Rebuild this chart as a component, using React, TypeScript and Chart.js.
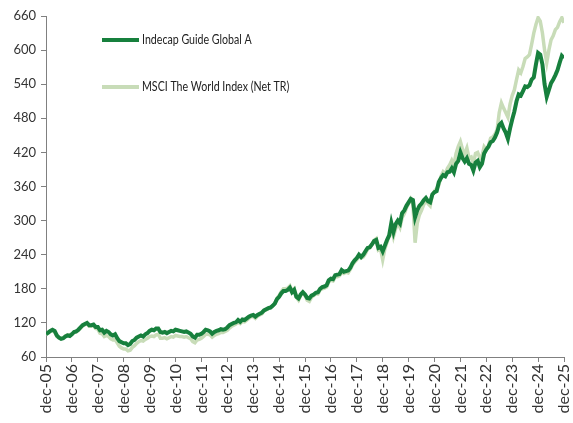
import React, { useEffect, useRef } from 'react';
import { Chart, registerables } from 'chart.js';

Chart.register(...registerables);

// Monthly index values, dec-05 .. dec-25 (241 months)
const indecap: number[] = [
  100,
  103, 106, 108, 106, 98, 94, 92, 93, 96, 98, 97, 100,
  104, 105, 108, 112, 116, 118, 120, 116, 116, 117, 113, 113,
  107, 108, 103, 106, 104, 100, 98, 100, 93, 88, 86, 84,
  84, 81, 83, 88, 90, 94, 96, 98, 96, 100, 102, 106,
  108, 107, 110, 110, 104, 103, 104, 102, 104, 106, 105, 108,
  107, 106, 105, 104, 105, 103, 101, 96, 94, 99, 99, 101,
  104, 108, 107, 105, 101, 104, 106, 107, 109, 108, 109, 112,
  116, 118, 120, 121, 125, 122, 126, 125, 128, 131, 133, 134,
  131, 134, 136, 138, 142, 144, 146, 147, 150, 154, 162, 166,
  172, 176, 176, 178, 182, 174, 178, 166, 163, 170, 174, 170,
  164, 163, 168, 170, 173, 174, 180, 183, 184, 186, 195, 198,
  197, 204, 205, 206, 213, 210, 211, 212, 217, 225, 230, 234,
  240, 236, 240, 246, 252, 253, 258, 264, 266, 252, 254, 246,
  256, 266, 274, 296, 280, 294, 300, 295, 313, 318, 326, 332,
  338, 336, 306, 318, 326, 330, 336, 340, 334, 332, 346, 350,
  352, 368, 375, 380, 378, 385, 386, 392, 385, 400, 405, 420,
  410, 404, 410, 400, 398, 388, 402, 405, 394, 400, 418, 425,
  430, 438, 440, 446, 455, 468, 472, 462, 455, 444, 462, 478,
  492, 510, 522, 520, 528, 536, 535, 538, 548, 552, 575, 595,
  592, 575, 540, 518, 530, 542, 548, 556, 565, 578, 590, 586,
];

const msci: number[] = [
  100,
  102, 105, 107, 104, 96, 94, 93, 94, 97, 99, 99, 101,
  103, 104, 107, 111, 115, 117, 119, 114, 114, 115, 110, 109,
  102, 101, 96, 98, 96, 92, 90, 91, 85, 79, 76, 74,
  74, 71, 72, 77, 80, 84, 87, 89, 88, 91, 93, 96,
  97, 96, 99, 100, 93, 93, 94, 92, 94, 96, 95, 98,
  97, 96, 96, 95, 96, 94, 92, 87, 85, 90, 91, 93,
  96, 100, 100, 99, 95, 98, 100, 101, 103, 103, 105, 107,
  111, 114, 116, 118, 121, 119, 123, 122, 125, 128, 131, 131,
  128, 132, 134, 136, 141, 143, 145, 147, 150, 154, 163, 168,
  175, 180, 180, 181, 185, 176, 180, 165, 160, 168, 173, 168,
  160, 158, 165, 168, 171, 171, 178, 180, 181, 183, 192, 195,
  194, 201, 201, 203, 209, 207, 209, 208, 214, 222, 227, 231,
  238, 234, 236, 242, 250, 252, 258, 265, 268, 248, 250, 231,
  250, 262, 272, 290, 272, 286, 296, 288, 305, 312, 322, 330,
  338, 330, 261, 295, 310, 318, 328, 336, 330, 326, 345, 352,
  356, 362, 378, 386, 382, 392, 398, 406, 398, 418, 430, 439,
  425, 418, 428, 410, 412, 400, 418, 420, 410, 414, 430, 425,
  432, 445, 447, 452, 460, 490, 507, 498, 490, 482, 505, 520,
  530, 548, 565, 560, 571, 585, 588, 592, 610, 630, 645, 657,
  651, 630, 600, 578, 600, 618, 625, 636, 640, 650, 657, 648,
];

const yearTicks: string[] = [
  'dec-05', 'dec-06', 'dec-07', 'dec-08', 'dec-09', 'dec-10', 'dec-11',
  'dec-12', 'dec-13', 'dec-14', 'dec-15', 'dec-16', 'dec-17', 'dec-18',
  'dec-19', 'dec-20', 'dec-21', 'dec-22', 'dec-23', 'dec-24', 'dec-25',
];

const seriesNames: string[] = ['Indecap Guide Global A', 'MSCI The World Index (Net TR)'];
const seriesColors: string[] = ['#17803d', '#c8dcb8'];

const FONT = 'Lato, "DejaVu Sans Condensed", sans-serif';

const inlineLegend = {
  id: 'inlineLegend',
  afterDatasetsDraw(chart: any) {
    const { ctx, chartArea } = chart;
    const x0 = chartArea.left + 56;
    const rows = [chartArea.top + 24, chartArea.top + 71];
    ctx.save();
    chart.data.datasets.forEach((ds: any, i: number) => {
      const y = rows[i];
      ctx.strokeStyle = ds.borderColor;
      ctx.lineWidth = 4;
      ctx.beginPath();
      ctx.moveTo(x0, y);
      ctx.lineTo(x0 + 37, y);
      ctx.stroke();
      ctx.fillStyle = '#222';
      ctx.font = '12.5px ' + FONT;
      ctx.textBaseline = 'middle';
      ctx.textAlign = 'left';
      const w = ctx.measureText(ds.label).width;
      ctx.fillText(ds.label, x0 + 40, y, w * 0.85);
    });
    ctx.restore();
  },
};

export default function App() {
  const ref = useRef<HTMLCanvasElement>(null);

  useEffect(() => {
    if (!ref.current) return;
    const chart = new Chart(ref.current, {
      type: 'line',
      data: {
        datasets: [
          {
            label: seriesNames[0],
            data: indecap.map((v, i) => ({ x: i, y: v })),
            borderColor: seriesColors[0],
            backgroundColor: seriesColors[0],
            borderWidth: 4,
            pointRadius: 0,
            tension: 0,
          },
          {
            label: seriesNames[1],
            data: msci.map((v, i) => ({ x: i, y: v })),
            borderColor: seriesColors[1],
            backgroundColor: seriesColors[1],
            borderWidth: 3.5,
            pointRadius: 0,
            tension: 0,
          },
        ],
      },
      options: {
        animation: false,
        responsive: true,
        maintainAspectRatio: false,
        layout: { padding: { top: 16, right: 9, left: 0, bottom: 0 } },
        plugins: {
          legend: { display: false },
          tooltip: { enabled: false },
        },
        scales: {
          x: {
            type: 'linear',
            min: 0,
            max: 240,
            ticks: {
              stepSize: 12,
              autoSkip: false,
              maxRotation: 90,
              minRotation: 90,
              padding: 2,
              color: '#333',
              font: { family: FONT, size: 16 },
              callback: (v: any) => yearTicks[Math.round(Number(v) / 12)] ?? '',
            },
            grid: { drawOnChartArea: false, drawTicks: true, tickLength: 5, color: '#808080' },
            border: { display: true, color: '#808080', width: 1 },
            afterFit: (s: any) => {
              s.height = 66;
              s.paddingLeft = 0;
              s.paddingRight = 0;
            },
          },
          y: {
            min: 60,
            max: 660,
            ticks: {
              stepSize: 60,
              padding: 5,
              color: '#333',
              font: { family: FONT, size: 13 },
            },
            grid: { drawOnChartArea: false, drawTicks: true, tickLength: 5, color: '#808080' },
            border: { display: true, color: '#808080', width: 1 },
            afterFit: (s: any) => { s.width = 46; },
          },
        },
      },
      plugins: [inlineLegend],
    });
    return () => chart.destroy();
  }, []);

  return (
    <div style={{ position: 'fixed', left: 0, top: 0, width: 573, height: 423, background: '#fff' }}>
      <canvas ref={ref} />
    </div>
  );
}
